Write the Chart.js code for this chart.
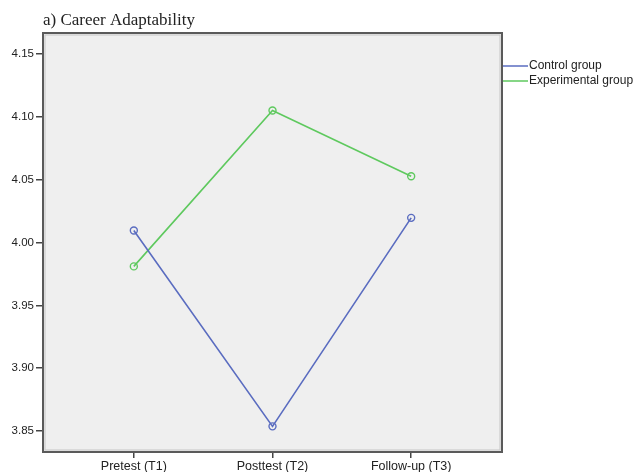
<!DOCTYPE html>
<html>
<head>
<meta charset="utf-8">
<script src="https://cdn.jsdelivr.net/npm/chart.js@4"></script>
<style>
  body { margin: 0; background: #fff; }
  #grafico { display: block; }
</style>
</head>
<body>
<canvas id="grafico" width="635" height="472"></canvas>
<script>
const momentos = ["Pretest (T1)", "Posttest (T2)", "Follow-up (T3)"];
const grupoControl = [4.0095, 3.8537, 4.0196];
const grupoExperimental = [3.981, 4.105, 4.0527];
const ticksY = [3.85, 3.90, 3.95, 4.00, 4.05, 4.10, 4.15];
const titulo = "a) Career Adaptability";
const nombresSeries = ["Control group", "Experimental group"];

const azul = "#5a6cc0";
const verde = "#5ec95e";

const puntos = (valores) => valores.map((v, i) => ({ x: i + 1, y: v }));

// fondo gris, marco, titulo y leyenda
const decoracion = {
  id: "decoracion",
  beforeDatasetsDraw(chart) {
    const { ctx, chartArea: a } = chart;
    ctx.save();
    ctx.fillStyle = "#efefef";
    ctx.fillRect(a.left, a.top, a.right - a.left, a.bottom - a.top);
    ctx.restore();
  },
  afterDraw(chart) {
    const { ctx, chartArea: a } = chart;
    ctx.save();
    ctx.strokeStyle = "#5a5a5a";
    ctx.lineWidth = 2;
    ctx.strokeRect(a.left, a.top, a.right - a.left, a.bottom - a.top);
    ctx.strokeStyle = "rgba(120,120,120,0.35)";
    ctx.lineWidth = 1;
    ctx.strokeRect(a.left + 2, a.top + 2, a.right - a.left - 4, a.bottom - a.top - 4);

    ctx.fillStyle = "#222";
    ctx.font = "17px 'Liberation Serif', serif";
    ctx.textBaseline = "alphabetic";
    ctx.fillText(titulo, a.left, a.top - 8);

    const colores = [azul, verde];
    ctx.font = "12px 'Liberation Sans', Arial, sans-serif";
    ctx.textBaseline = "middle";
    nombresSeries.forEach((n, i) => {
      const y = 66 + i * 15;
      ctx.strokeStyle = colores[i];
      ctx.lineWidth = 1.5;
      ctx.beginPath();
      ctx.moveTo(a.right + 1, y);
      ctx.lineTo(a.right + 26, y);
      ctx.stroke();
      ctx.fillStyle = "#222";
      ctx.fillText(n, a.right + 27, y);
    });
    ctx.restore();
  }
};

new Chart(document.getElementById("grafico"), {
  type: "line",
  data: {
    datasets: [
      {
        label: nombresSeries[0],
        data: puntos(grupoControl),
        borderColor: azul,
        borderWidth: 1.6,
        pointRadius: 3.5,
        pointBorderWidth: 1.4,
        pointBackgroundColor: "rgba(0,0,0,0)",
        pointBorderColor: azul,
        tension: 0,
      },
      {
        label: nombresSeries[1],
        data: puntos(grupoExperimental),
        borderColor: verde,
        borderWidth: 1.6,
        pointRadius: 3.5,
        pointBorderWidth: 1.4,
        pointBackgroundColor: "rgba(0,0,0,0)",
        pointBorderColor: verde,
        tension: 0,
      },
    ],
  },
  options: {
    responsive: false,
    animation: false,
    layout: { padding: { top: 33, right: 133, left: 0, bottom: 0 } },
    plugins: {
      legend: { display: false },
      tooltip: { enabled: false },
    },
    scales: {
      x: {
        type: "linear",
        min: 0.345,
        max: 3.655,
        afterBuildTicks(scale) {
          scale.ticks = momentos.map((_, i) => ({ value: i + 1 }));
        },
        afterFit(scale) { scale.height = 20; },
        ticks: {
          callback: (v) => momentos[v - 1] ?? "",
          color: "#222",
          font: { family: "'Liberation Sans', Arial, sans-serif", size: 12.5 },
          padding: 1,
          maxRotation: 0,
        },
        grid: { drawOnChartArea: false, tickLength: 6, color: "#444", lineWidth: 1.5 },
        border: { display: false },
      },
      y: {
        min: 3.8333,
        max: 4.1667,
        afterBuildTicks(scale) {
          scale.ticks = ticksY.map((v) => ({ value: v }));
        },
        afterFit(scale) { scale.width = 43; },
        ticks: {
          callback: (v) => Number(v).toFixed(2),
          color: "#222",
          font: { family: "'Liberation Sans', Arial, sans-serif", size: 11.5 },
          padding: 2,
        },
        grid: { drawOnChartArea: false, tickLength: 7, color: "#444", lineWidth: 1.5 },
        border: { display: false },
      },
    },
  },
  plugins: [decoracion],
});
</script>
</body>
</html>
